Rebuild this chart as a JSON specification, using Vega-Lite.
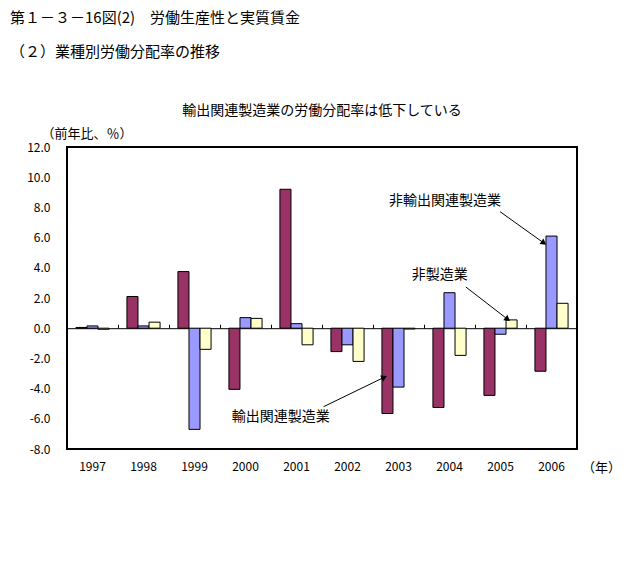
{
  "$schema": "https://vega.github.io/schema/vega-lite/v6.json",
  "width": 510,
  "height": 302,
  "autosize": "none",
  "padding": {"left": 67, "top": 147, "right": 50, "bottom": 114},
  "background": "white",
  "config": {
    "font": "Noto Sans CJK JP",
    "view": {"stroke": "black", "strokeWidth": 2},
    "axis": {"labelFont": "Noto Sans CJK JP", "titleFont": "Noto Sans CJK JP", "labelColor": "black", "titleColor": "black", "grid": false}
  },
  "title": {
    "text": "第１－３－16図(2)　労働生産性と実質賃金",
    "subtitle": "（２）業種別労働分配率の推移",
    "anchor": "start",
    "frame": "group",
    "dx": -57,
    "offset": 43,
    "fontSize": 15,
    "fontWeight": "normal",
    "color": "black",
    "subtitleFontSize": 15,
    "subtitleColor": "black",
    "subtitlePadding": 19,
    "font": "Noto Sans CJK JP",
    "subtitleFont": "Noto Sans CJK JP"
  },
  "datasets": {
    "bars": [
      {"year": "1997", "series": "輸出関連製造業", "value": 0.05},
      {"year": "1997", "series": "非輸出関連製造業", "value": 0.15},
      {"year": "1997", "series": "非製造業", "value": -0.07},
      {"year": "1998", "series": "輸出関連製造業", "value": 2.1},
      {"year": "1998", "series": "非輸出関連製造業", "value": 0.15},
      {"year": "1998", "series": "非製造業", "value": 0.4},
      {"year": "1999", "series": "輸出関連製造業", "value": 3.75},
      {"year": "1999", "series": "非輸出関連製造業", "value": -6.7},
      {"year": "1999", "series": "非製造業", "value": -1.4},
      {"year": "2000", "series": "輸出関連製造業", "value": -4.05},
      {"year": "2000", "series": "非輸出関連製造業", "value": 0.7},
      {"year": "2000", "series": "非製造業", "value": 0.65},
      {"year": "2001", "series": "輸出関連製造業", "value": 9.2},
      {"year": "2001", "series": "非輸出関連製造業", "value": 0.3},
      {"year": "2001", "series": "非製造業", "value": -1.1},
      {"year": "2002", "series": "輸出関連製造業", "value": -1.55},
      {"year": "2002", "series": "非輸出関連製造業", "value": -1.1},
      {"year": "2002", "series": "非製造業", "value": -2.2},
      {"year": "2003", "series": "輸出関連製造業", "value": -5.65},
      {"year": "2003", "series": "非輸出関連製造業", "value": -3.9},
      {"year": "2003", "series": "非製造業", "value": -0.05},
      {"year": "2004", "series": "輸出関連製造業", "value": -5.25},
      {"year": "2004", "series": "非輸出関連製造業", "value": 2.35},
      {"year": "2004", "series": "非製造業", "value": -1.8},
      {"year": "2005", "series": "輸出関連製造業", "value": -4.45},
      {"year": "2005", "series": "非輸出関連製造業", "value": -0.4},
      {"year": "2005", "series": "非製造業", "value": 0.55},
      {"year": "2006", "series": "輸出関連製造業", "value": -2.85},
      {"year": "2006", "series": "非輸出関連製造業", "value": 6.1},
      {"year": "2006", "series": "非製造業", "value": 1.65}
    ],
    "notes": [
      {"label": "非輸出関連製造業", "tx": 2003.91, "ty": 8.44, "sx": 2004.99, "sy": 7.72, "ex": 2005.85, "ey": 5.64},
      {"label": "非製造業", "tx": 2003.81, "ty": 3.52, "sx": 2004.32, "sy": 2.73, "ex": 2005.14, "ey": 0.59},
      {"label": "輸出関連製造業", "tx": 2000.69, "ty": -5.88, "sx": 2001.53, "sy": -5.2, "ex": 2002.72, "ey": -3.25}
    ]
  },
  "layer": [
    {
      "data": {"name": "bars"},
      "mark": {"type": "bar", "stroke": "black", "strokeWidth": 1},
      "encoding": {
        "x": {
          "field": "year", "type": "nominal",
          "scale": {"paddingInner": 0.35, "paddingOuter": 0.175},
          "axis": {"orient": "bottom", "ticks": false, "domain": false, "labelAngle": 0, "labelFontSize": 12, "labelPadding": 12,
                   "title": "（年）", "titleX": 534, "titleY": 18, "titleAlign": "center", "titleBaseline": "middle", "titleFontSize": 13, "titleFontWeight": "normal"}
        },
        "xOffset": {"field": "series", "type": "nominal", "sort": ["輸出関連製造業", "非輸出関連製造業", "非製造業"], "scale": {"paddingInner": 0}},
        "y": {
          "field": "value", "type": "quantitative",
          "scale": {"domain": [-8, 12], "nice": false},
          "axis": {"orient": "left", "values": [-8, -6, -4, -2, 0, 2, 4, 6, 8, 10, 12], "labelExpr": "replace(format(datum.value, '.1f'), '\u2212', '-')",
                   "labelOverlap": false, "ticks": false, "domain": false, "labelFontSize": 12, "labelPadding": 17,
                   "title": "（前年比、％）", "titleAngle": 0, "titleX": 19.5, "titleY": -14, "titleAlign": "center", "titleBaseline": "middle", "titleFontSize": 13, "titleFontWeight": "normal"}
        },
        "color": {
          "field": "series", "type": "nominal",
          "sort": ["輸出関連製造業", "非輸出関連製造業", "非製造業"],
          "scale": {"domain": ["輸出関連製造業", "非輸出関連製造業", "非製造業"], "range": ["#993366", "#9999FF", "#FFFFCC"]},
          "legend": null
        }
      }
    },
    {
      "data": {"name": "notes"},
      "layer": [
        {
          "mark": {"type": "text", "fontSize": 14, "color": "black", "font": "Noto Sans CJK JP"},
          "encoding": {
            "x": {"field": "tx", "type": "quantitative", "scale": {"domain": [1996.5, 2006.5], "nice": false, "zero": false},
                  "axis": {"orient": "top", "offset": -181.2, "values": [1997.5, 1998.5, 1999.5, 2000.5, 2001.5, 2002.5, 2003.5, 2004.5, 2005.5],
                           "labels": false, "ticks": true, "tickSize": 4, "tickColor": "black", "tickWidth": 1, "domain": true, "domainColor": "black", "domainWidth": 1, "title": null, "grid": false}},
            "y": {"field": "ty", "type": "quantitative", "axis": null},
            "text": {"field": "label"}
          }
        },
        {
          "mark": {"type": "rule", "color": "black", "strokeWidth": 1},
          "encoding": {
            "x": {"field": "sx", "type": "quantitative", "scale": {"domain": [1996.5, 2006.5], "nice": false, "zero": false},
                  "axis": {"orient": "top", "labels": false, "ticks": false, "domain": false, "grid": false,
                           "title": "輸出関連製造業の労働分配率は低下している", "titleX": 254.5, "titleY": -37, "titleAlign": "center", "titleBaseline": "middle", "titleFontSize": 14, "titleFontWeight": "normal"}},
            "y": {"field": "sy", "type": "quantitative", "axis": null},
            "x2": {"field": "ex"},
            "y2": {"field": "ey"}
          }
        },
        {
          "transform": [{"filter": "datum.label == '非輸出関連製造業'"}],
          "mark": {"type": "point", "shape": "triangle-up", "filled": true, "color": "black", "size": 45, "opacity": 1, "angle": 125},
          "encoding": {
            "x": {"field": "ex", "type": "quantitative", "scale": {"domain": [1996.5, 2006.5], "nice": false, "zero": false}, "axis": null},
            "y": {"field": "ey", "type": "quantitative", "axis": null}
          }
        },
        {
          "transform": [{"filter": "datum.label == '非製造業'"}],
          "mark": {"type": "point", "shape": "triangle-up", "filled": true, "color": "black", "size": 45, "opacity": 1, "angle": 128},
          "encoding": {
            "x": {"field": "ex", "type": "quantitative", "scale": {"domain": [1996.5, 2006.5], "nice": false, "zero": false}, "axis": null},
            "y": {"field": "ey", "type": "quantitative", "axis": null}
          }
        },
        {
          "transform": [{"filter": "datum.label == '輸出関連製造業'"}],
          "mark": {"type": "point", "shape": "triangle-up", "filled": true, "color": "black", "size": 45, "opacity": 1, "angle": 64},
          "encoding": {
            "x": {"field": "ex", "type": "quantitative", "scale": {"domain": [1996.5, 2006.5], "nice": false, "zero": false}, "axis": null},
            "y": {"field": "ey", "type": "quantitative", "axis": null}
          }
        }
      ],
      "resolve": {"axis": {"x": "independent"}}
    }
  ],
  "resolve": {"scale": {"x": "independent"}, "axis": {"x": "independent", "y": "independent"}}
}
